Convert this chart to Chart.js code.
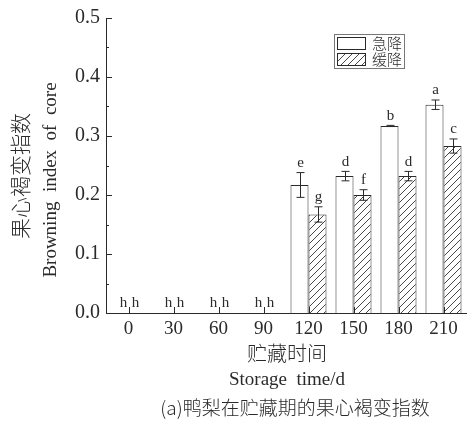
<!DOCTYPE html>
<html>
<head>
<meta charset="utf-8">
<script src="https://cdn.jsdelivr.net/npm/chart.js@4"></script>
<style>
  html, body { margin:0; padding:0; background:#fff; }
  #wrap { width:469px; height:424px; position:relative; }
</style>
</head>
<body>
<div id="wrap"><canvas id="c" width="469" height="424"></canvas></div>
<script>
// ── Data ───────────────────────────────────────────────────────────────────────
const days       = ['0', '30', '60', '90', '120', '150', '180', '210'];
const fastDrop   = [0, 0, 0, 0, 0.217, 0.232, 0.317, 0.353];   // 急降
const fastErr    = [0, 0, 0, 0, 0.021, 0.008, 0.001, 0.008];
const fastLetter = ['h', 'h', 'h', 'h', 'e', 'd', 'b', 'a'];
const slowDrop   = [0, 0, 0, 0, 0.167, 0.200, 0.232, 0.283];   // 缓降
const slowErr    = [0, 0, 0, 0, 0.013, 0.009, 0.008, 0.012];
const slowLetter = ['h', 'h', 'h', 'h', 'g', 'f', 'd', 'c'];
const seriesNames = ['急降', '缓降'];

const SERIF = '"Liberation Serif", "DejaVu Serif", serif';
const CJK   = '"Noto Sans CJK SC", sans-serif';
const INK   = '#2a2a2a';

function hatchPattern() {
  const p = document.createElement('canvas');
  p.width = 7; p.height = 7;
  const g = p.getContext('2d');
  g.fillStyle = '#fff'; g.fillRect(0, 0, 7, 7);
  g.strokeStyle = '#333'; g.lineWidth = 0.9;
  g.beginPath();
  g.moveTo(-1, 8); g.lineTo(8, -1);
  g.moveTo(-1, 1); g.lineTo(1, -1);
  g.moveTo(6, 8); g.lineTo(8, 6);
  g.stroke();
  return g.createPattern(p, 'repeat');
}
const hatch = hatchPattern();

// error bars, significance letters, inner ticks, legend, titles
const decor = {
  id: 'decor',
  afterDatasetsDraw(chart) {
    const ctx = chart.ctx;
    const xs = chart.scales.x, ys = chart.scales.y;
    const errs = [fastErr, slowErr], letters = [fastLetter, slowLetter];
    ctx.save();
    ctx.strokeStyle = INK; ctx.lineWidth = 1;
    chart.data.datasets.forEach((ds, di) => {
      chart.getDatasetMeta(di).data.forEach((bar, i) => {
        const v = ds.data[i], e = errs[di][i];
        const x = Math.round(bar.x) + 0.5;
        let topY = ys.getPixelForValue(v + e);
        if (e > 0) {
          const lo = ys.getPixelForValue(v - e);
          ctx.beginPath();
          ctx.moveTo(x, topY); ctx.lineTo(x, lo);
          ctx.moveTo(x - 4, topY); ctx.lineTo(x + 4, topY);
          ctx.moveTo(x - 4, lo); ctx.lineTo(x + 4, lo);
          ctx.stroke();
        }
        ctx.fillStyle = INK;
        ctx.font = '15px ' + SERIF;
        ctx.textAlign = 'center'; ctx.textBaseline = 'bottom';
        const lx = v === 0 ? x + (di === 0 ? 3 : -3) : x;
        ctx.fillText(letters[di][i], lx, topY - 2);
      });
    });
    // inner ticks on x axis
    ctx.beginPath();
    days.forEach((d, i) => {
      const x = Math.round(xs.getPixelForValue(i)) + 0.5;
      ctx.moveTo(x, ys.bottom); ctx.lineTo(x, ys.bottom - 6);
    });
    // inner ticks on y axis (major + minor)
    for (let k = 0; k <= 10; k++) {
      const y = Math.round(ys.getPixelForValue(k * 0.05)) + 0.5;
      ctx.moveTo(xs.left, y); ctx.lineTo(xs.left + (k % 2 === 0 ? 6 : 3), y);
    }
    ctx.stroke();
    ctx.restore();
  },
  afterDraw(chart) {
    const ctx = chart.ctx;
    ctx.save();
    // legend
    ctx.strokeStyle = '#777'; ctx.lineWidth = 1;
    ctx.strokeRect(334.5, 34.5, 70, 34);
    ctx.strokeStyle = INK;
    ctx.fillStyle = '#fff';
    ctx.fillRect(337.5, 37.5, 28, 12); ctx.strokeRect(337.5, 37.5, 28, 12);
    ctx.fillStyle = hatch;
    ctx.fillRect(337.5, 53.5, 28, 12); ctx.strokeRect(337.5, 53.5, 28, 12);
    ctx.fillStyle = INK;
    ctx.font = '300 15px ' + CJK;
    ctx.textAlign = 'left'; ctx.textBaseline = 'middle';
    ctx.fillText(seriesNames[0], 372, 43);
    ctx.fillText(seriesNames[1], 372, 59);
    // x titles and caption
    ctx.textAlign = 'center';
    ctx.font = '300 20px ' + CJK;
    ctx.fillText('贮藏时间', 287, 353);
    ctx.font = '19px ' + SERIF;
    ctx.fillText('Storage  time/d', 287, 380);
    ctx.font = '300 19px ' + CJK;
    ctx.fillText('(a)鸭梨在贮藏期的果心褐变指数', 295, 408);
    // y titles
    ctx.save();
    ctx.translate(20, 176); ctx.rotate(-Math.PI / 2);
    ctx.font = '300 21px ' + CJK;
    ctx.fillText('果心褐变指数', 0, 0);
    ctx.restore();
    ctx.save();
    ctx.translate(51, 180); ctx.rotate(-Math.PI / 2);
    ctx.font = '19px ' + SERIF;
    ctx.fillText('Browning  index  of  core', 0, 0);
    ctx.restore();
    ctx.restore();
  }
};

new Chart(document.getElementById('c').getContext('2d'), {
  type: 'bar',
  data: {
    labels: days,
    datasets: [{
      label: seriesNames[0], data: fastDrop,
      backgroundColor: '#fff', borderColor: INK, borderWidth: 1,
      categoryPercentage: 0.8, barPercentage: 1,
    }, {
      label: seriesNames[1], data: slowDrop,
      backgroundColor: hatch, borderColor: INK, borderWidth: 1,
      categoryPercentage: 0.8, barPercentage: 1,
    }]
  },
  plugins: [decor],
  options: {
    responsive: false,
    animation: false,
    layout: { padding: { left: 0, top: 15, right: 3, bottom: 0 } },
    plugins: { legend: { display: false }, tooltip: { enabled: false } },
    scales: {
      x: {
        grid: { display: false, drawTicks: false },
        border: { display: true, color: INK, width: 1 },
        ticks: { color: INK, padding: 5, font: { family: SERIF, size: 19 } },
        afterFit: s => { s.height = 111; }
      },
      y: {
        min: 0, max: 0.5,
        grid: { display: false, drawTicks: false },
        border: { display: true, color: INK, width: 1 },
        ticks: { stepSize: 0.1, color: INK, padding: 6,
                 font: { family: SERIF, size: 20 },
                 callback: v => v.toFixed(1) },
        afterFit: s => { s.width = 106; }
      }
    }
  }
});
</script>
</body>
</html>
